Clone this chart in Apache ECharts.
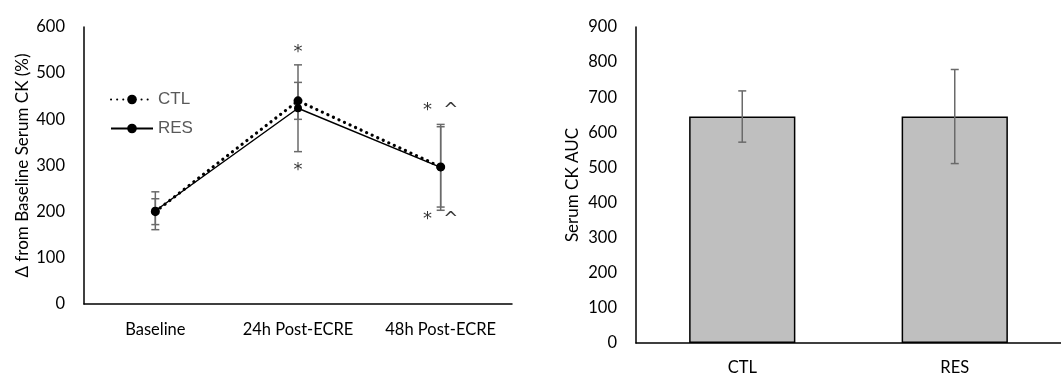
<!DOCTYPE html>
<html>
<head>
<meta charset="utf-8">
<script src="https://cdn.jsdelivr.net/npm/echarts@6/dist/echarts.min.js"></script>
<style>
  html, body { margin: 0; padding: 0; background: #fff; }
  #chart { width: 1061px; height: 376px; }
</style>
</head>
<body>
<div id="chart"></div>
<script>
// left panel: time course
var timePoints = ['Baseline', '24h Post-ECRE', '48h Post-ECRE'];
var ctlValues = [200, 440, 297];
var resValues = [202, 424, 296];
var ctlErr = [28, 40, 87];
var resErr = [41, 94, 93];
var starAbove = ['', '*', '*  ^'];
var starAboveY = [0, 545, 420];
var starBelow = ['', '*', '*  ^'];
var starBelowY = [0, 290, 184];

// right panel: AUC
var groups = ['CTL', 'RES'];
var aucValues = [645, 645];
var aucErr = [73, 134];

var font = 'Lato, "Open Sans", sans-serif';

function errData(vals, errs) {
    return vals.map(function (v, i) { return [i, v - errs[i], v + errs[i]]; });
}

function errRender(params, api) {
    var x = api.value(0);
    var lo = api.coord([x, api.value(1)]);
    var hi = api.coord([x, api.value(2)]);
    var w = 4;
    var style = { stroke: '#6a6a6a', lineWidth: 1.5 };
    return {
        type: 'group',
        children: [
            { type: 'line', shape: { x1: lo[0], y1: lo[1], x2: hi[0], y2: hi[1] }, style: style },
            { type: 'line', shape: { x1: hi[0] - w, y1: hi[1], x2: hi[0] + w, y2: hi[1] }, style: style },
            { type: 'line', shape: { x1: lo[0] - w, y1: lo[1], x2: lo[0] + w, y2: lo[1] }, style: style }
        ]
    };
}

function labelData(texts, ys) {
    var out = [];
    texts.forEach(function (t, i) { if (t) out.push({ value: [i, ys[i]], name: t }); });
    return out;
}

var chart = echarts.init(document.getElementById('chart'));

var axisLine = { show: true, lineStyle: { color: '#000', width: 1.5 } };
var tickText = { color: '#000', fontSize: 16.5, fontFamily: font };

var option = {
    animation: false,
    legend: {
        orient: 'vertical',
        left: 105,
        top: 86,
        itemWidth: 42,
        itemHeight: 12,
        itemGap: 12,
        data: ['CTL', 'RES'],
        textStyle: { color: '#595959', fontSize: 17, fontFamily: '"Liberation Sans", Arial, sans-serif' }
    },
    grid: [
        { left: 84, top: 27, width: 428, height: 277 },
        { left: 636, top: 27, width: 425, height: 316 }
    ],
    xAxis: [
        {
            type: 'category', gridIndex: 0, data: timePoints,
            axisLine: axisLine, axisTick: { show: false },
            axisLabel: Object.assign({ margin: 17, interval: 0, hideOverlap: false }, tickText)
        },
        {
            type: 'category', gridIndex: 1, data: groups,
            axisLine: axisLine, axisTick: { show: false },
            axisLabel: Object.assign({ margin: 16, interval: 0 }, tickText)
        }
    ],
    yAxis: [
        {
            type: 'value', gridIndex: 0, min: 0, max: 600, interval: 100,
            axisLine: axisLine, axisTick: { show: false }, splitLine: { show: false },
            axisLabel: Object.assign({ margin: 19 }, tickText),
            name: 'Δ from Baseline Serum CK (%)', nameLocation: 'middle', nameGap: 53,
            nameTextStyle: { color: '#000', fontSize: 17, fontFamily: font }
        },
        {
            type: 'value', gridIndex: 1, min: 0, max: 900, interval: 100,
            axisLine: axisLine, axisTick: { show: false }, splitLine: { show: false },
            axisLabel: Object.assign({ margin: 19 }, tickText),
            name: 'Serum CK AUC', nameLocation: 'middle', nameGap: 55,
            nameTextStyle: { color: '#000', fontSize: 17, fontFamily: font }
        }
    ],
    series: [
        {
            type: 'custom', name: 'ctlErr', xAxisIndex: 0, yAxisIndex: 0,
            renderItem: errRender, data: errData(ctlValues, ctlErr), z: 1,
            encode: { x: 0, y: [1, 2] }
        },
        {
            type: 'custom', name: 'resErr', xAxisIndex: 0, yAxisIndex: 0,
            renderItem: errRender, data: errData(resValues, resErr), z: 1,
            encode: { x: 0, y: [1, 2] }
        },
        {
            name: 'CTL', type: 'line', xAxisIndex: 0, yAxisIndex: 0, data: ctlValues,
            symbol: 'circle', symbolSize: 9, z: 3,
            itemStyle: { color: '#000' },
            lineStyle: { color: '#000', width: 3.2, type: [0.1, 6], cap: 'round' }
        },
        {
            name: 'RES', type: 'line', xAxisIndex: 0, yAxisIndex: 0, data: resValues,
            symbol: 'circle', symbolSize: 8, z: 4,
            itemStyle: { color: '#000' },
            lineStyle: { color: '#000', width: 1.5 }
        },
        {
            type: 'scatter', xAxisIndex: 0, yAxisIndex: 0, symbolSize: 0, silent: true,
            data: labelData(starAbove, starAboveY).concat(labelData(starBelow, starBelowY)),
            itemStyle: { color: '#000' },
            label: {
                show: true, position: 'inside', formatter: '{b}',
                color: '#000', fontSize: 18, fontFamily: '"DejaVu Sans", sans-serif'
            }
        },
        {
            type: 'bar', xAxisIndex: 1, yAxisIndex: 1, data: aucValues, barWidth: '50%',
            itemStyle: { color: '#bfbfbf', borderColor: '#000', borderWidth: 1.5 }, z: 2
        },
        {
            type: 'custom', xAxisIndex: 1, yAxisIndex: 1,
            renderItem: errRender, data: errData(aucValues, aucErr), z: 3,
            encode: { x: 0, y: [1, 2] }
        }
    ]
};

chart.setOption(option);
</script>
</body>
</html>
